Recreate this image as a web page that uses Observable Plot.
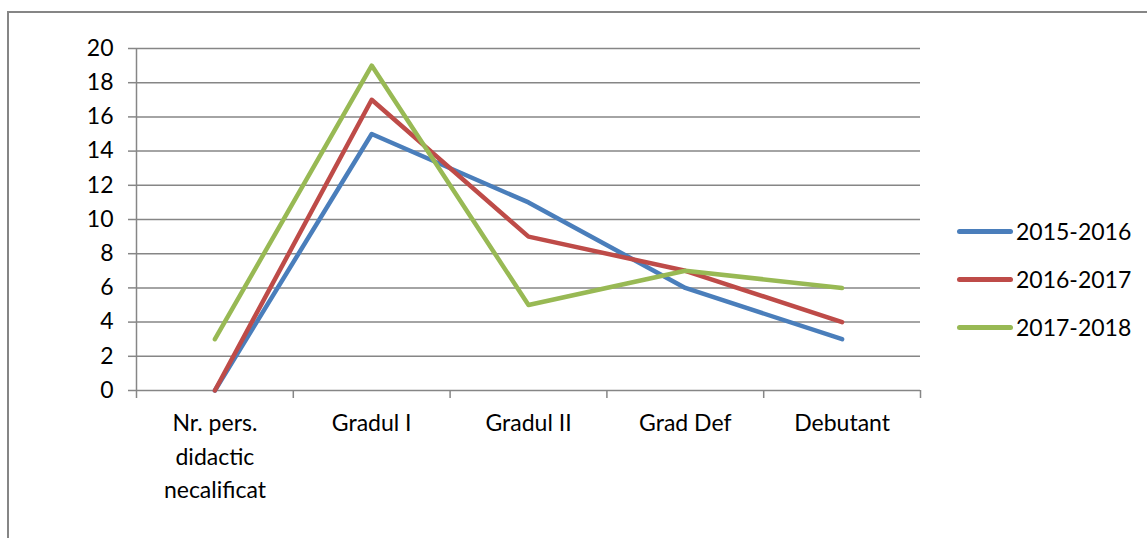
<!DOCTYPE html>
<html>
<head>
<meta charset="utf-8">
<script src="https://cdn.jsdelivr.net/npm/d3@7"></script>
<script src="https://cdn.jsdelivr.net/npm/@observablehq/plot@0.6"></script>
<style>
  html, body { margin: 0; padding: 0; background: #fff; }
  #wrap { position: relative; width: 1147px; height: 538px; overflow: hidden; font-family: Lato, "Open Sans", sans-serif; }
  #frame { position: absolute; left: 7px; top: 11px; width: 1200px; height: 600px; border-top: 2px solid #868686; border-left: 2px solid #868686; box-sizing: border-box; }
  #chart { position: absolute; left: 0; top: 0; }
  #legend { position: absolute; left: 957px; top: 207px; font-size: 23px; color: #000; }
  .item { display: flex; align-items: center; height: 48px; }
  .sw { width: 56px; height: 5px; border-radius: 3px; margin-right: 3px; }
</style>
</head>
<body>
<div id="wrap">
  <div id="frame"></div>
  <div id="chart"></div>
  <div id="legend"></div>
</div>
<script>
const categories = ["Nr. pers.\ndidactic\nnecalificat", "Gradul I", "Gradul II", "Grad Def", "Debutant"];
const seriesNames = ["2015-2016", "2016-2017", "2017-2018"];
const values2015 = [0, 15, 11, 6, 3];
const values2016 = [0, 17, 9, 7, 4];
const values2017 = [3, 19, 5, 7, 6];
const colors = ["#4a7ebb", "#be4b48", "#98b954"];
const yTicks = [0, 2, 4, 6, 8, 10, 12, 14, 16, 18, 20];

const seriesValues = [values2015, values2016, values2017];
const data = [];
seriesNames.forEach((s, si) => seriesValues[si].forEach((v, i) => data.push({series: s, i, v})));
const idx = categories.map((_, i) => i);
const bounds = categories.map((_, i) => i - 0.5).concat([categories.length - 0.5]);

const chart = Plot.plot({
  width: 1147,
  height: 538,
  marginLeft: 136,
  marginRight: 227,
  marginTop: 48,
  marginBottom: 148,
  style: {fontFamily: "Lato, 'Open Sans', sans-serif", fontSize: "23px", color: "#000", background: "transparent"},
  x: {type: "linear", domain: [-0.5, categories.length - 0.5], axis: null},
  y: {domain: [0, 20], axis: null},
  color: {domain: seriesNames, range: colors},
  marks: [
    Plot.gridY(yTicks, {stroke: "#868686", strokeOpacity: 1, strokeWidth: 1.5}),
    Plot.ruleX([-0.5], {stroke: "#868686", strokeWidth: 1.5}),
    Plot.axisY(yTicks, {tickSize: 8, tickPadding: 15, stroke: "#868686", strokeWidth: 1.5, strokeOpacity: 1, label: null, fill: "#000", fontSize: 23}),
    Plot.axisX(bounds, {tickSize: 8, tickFormat: () => "", stroke: "#868686", strokeWidth: 1.5, strokeOpacity: 1, label: null}),
    Plot.axisX(idx, {tickSize: 0, tickPadding: 17, tickFormat: i => categories[i], lineHeight: 1.45, label: null, fill: "#000", fontSize: 23}),
    Plot.line(data, {x: "i", y: "v", z: "series", stroke: "series", strokeWidth: 4.5, strokeLinecap: "round", strokeLinejoin: "round"})
  ]
});
document.getElementById("chart").appendChild(chart);

const legend = document.getElementById("legend");
seriesNames.forEach((s, si) => {
  const it = document.createElement("div");
  it.className = "item";
  const sw = document.createElement("div");
  sw.className = "sw";
  sw.style.background = colors[si];
  const t = document.createElement("span");
  t.textContent = s;
  it.appendChild(sw);
  it.appendChild(t);
  legend.appendChild(it);
});
</script>
</body>
</html>
